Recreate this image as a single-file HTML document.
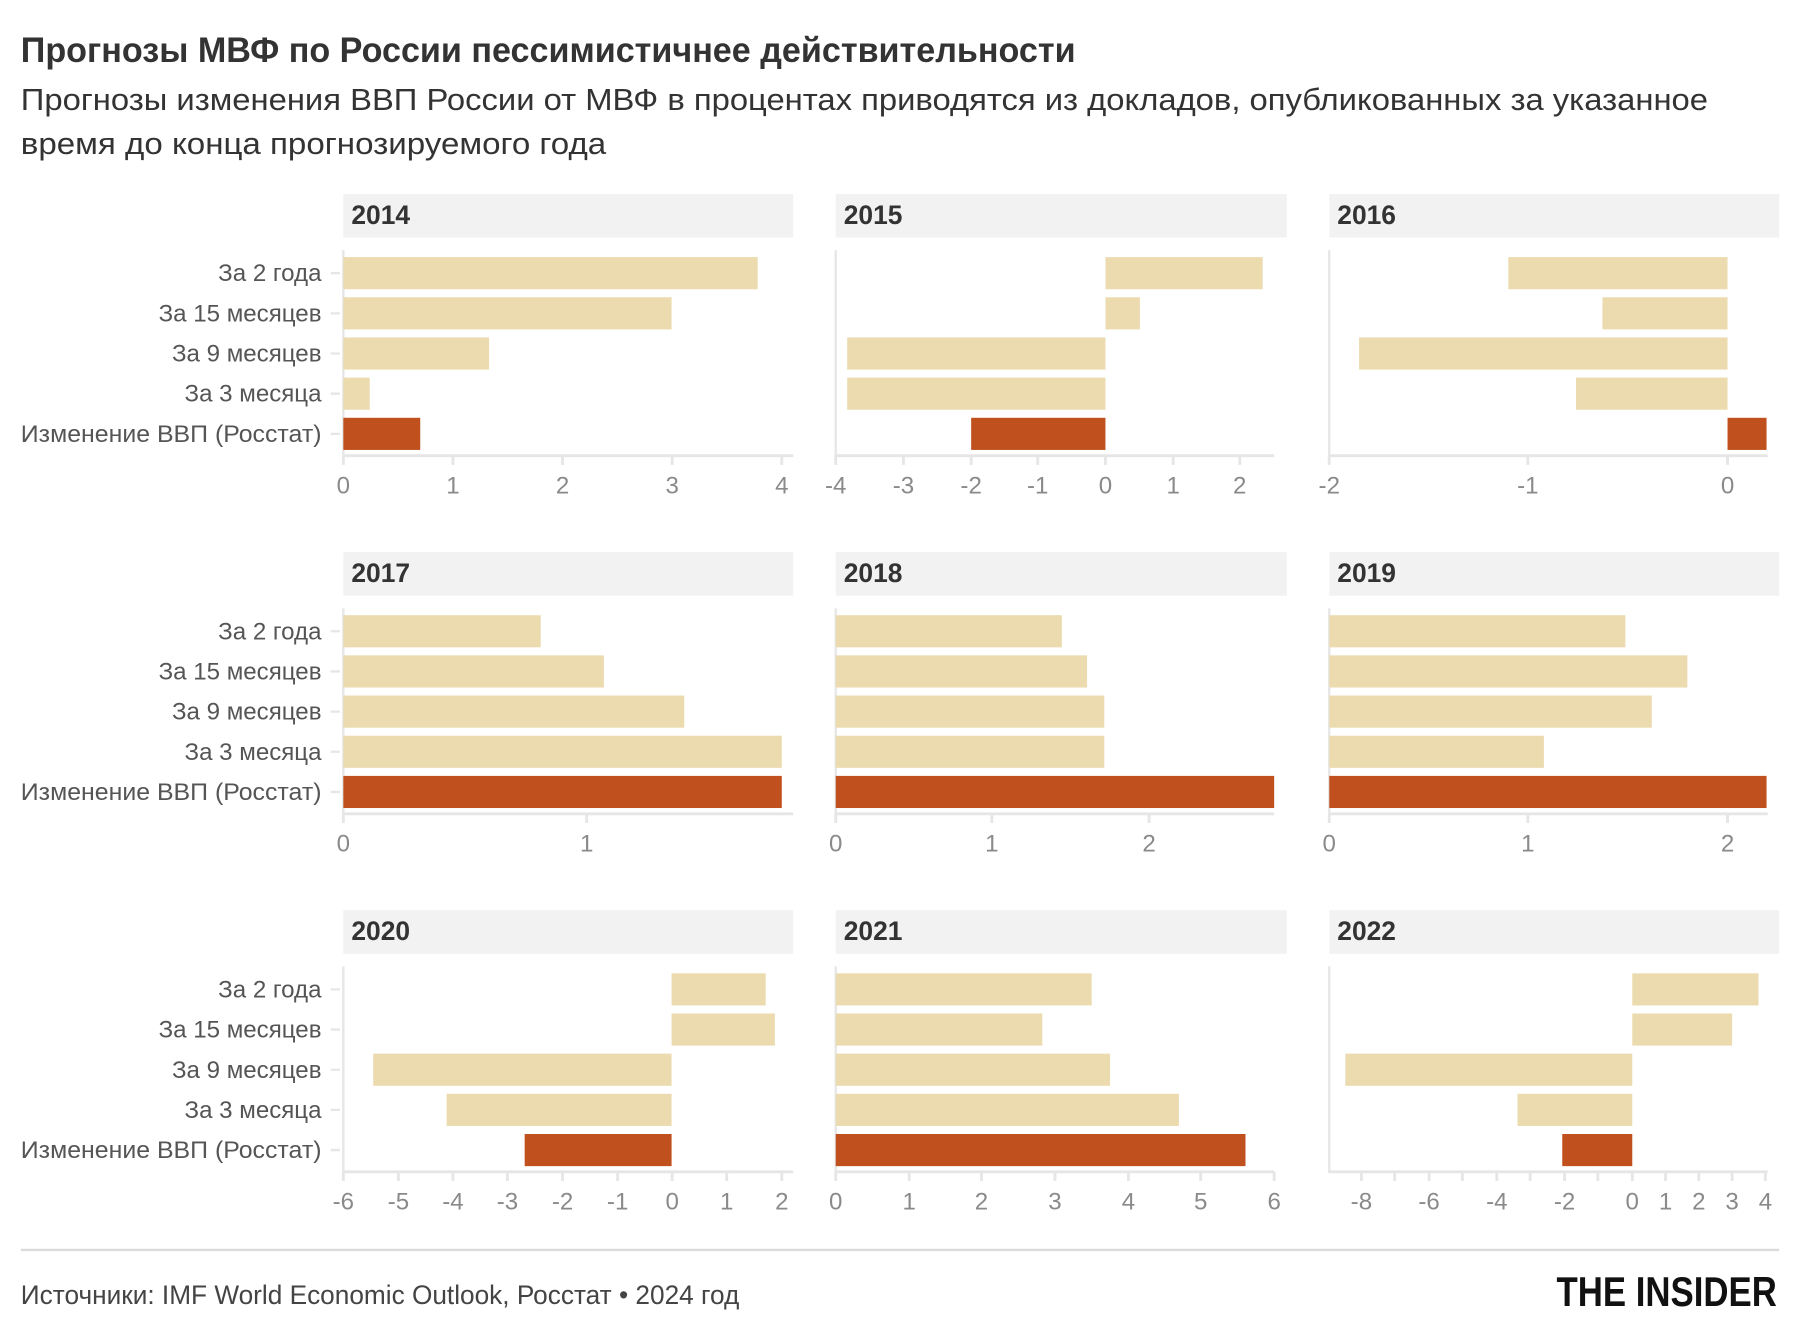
<!DOCTYPE html>
<html><head><meta charset="utf-8"><style>
html,body{margin:0;padding:0;background:#fff}
svg{display:block}
text{font-family:"Liberation Sans Narrow","Liberation Sans","DejaVu Sans Condensed",sans-serif}
.cat{font-size:21px;fill:#555;text-anchor:end}
.tk{font-size:21px;fill:#8a8a8a;text-anchor:middle}
.yr{font-size:23px;font-weight:bold;fill:#333}
.hd{fill:#f2f2f2}
.f{fill:#ecdbaf}
.a{fill:#c0501e}
.ax{stroke:#e6e6e6;stroke-width:2.5}
</style></head><body>
<svg width="1800" height="1336" viewBox="0 0 1568 1164" xmlns="http://www.w3.org/2000/svg">
<text x="18" y="54" font-size="31" font-weight="bold" fill="#333" textLength="919" lengthAdjust="spacingAndGlyphs">Прогнозы МВФ по России пессимистичнее действительности</text>
<text x="18" y="96" font-size="27" fill="#333" textLength="1470" lengthAdjust="spacingAndGlyphs">Прогнозы изменения ВВП России от МВФ в процентах приводятся из докладов, опубликованных за указанное</text>
<text x="18" y="134" font-size="27" fill="#333" textLength="510" lengthAdjust="spacingAndGlyphs">время до конца прогнозируемого года</text>

<g class="cat">
<text x="280" y="245">За 2 года</text><text x="280" y="280">За 15 месяцев</text><text x="280" y="315">За 9 месяцев</text><text x="280" y="350">За 3 месяца</text><text x="280" y="385" textLength="262" lengthAdjust="spacingAndGlyphs">Изменение ВВП (Росстат)</text>
<text x="280" y="557">За 2 года</text><text x="280" y="592">За 15 месяцев</text><text x="280" y="627">За 9 месяцев</text><text x="280" y="662">За 3 месяца</text><text x="280" y="697" textLength="262" lengthAdjust="spacingAndGlyphs">Изменение ВВП (Росстат)</text>
<text x="280" y="869">За 2 года</text><text x="280" y="904">За 15 месяцев</text><text x="280" y="939">За 9 месяцев</text><text x="280" y="974">За 3 месяца</text><text x="280" y="1009" textLength="262" lengthAdjust="spacingAndGlyphs">Изменение ВВП (Росстат)</text>
</g>
<g stroke="#e6e6e6" stroke-width="2">
<path d="M288 238h8M288 273h8M288 308h8M288 343h8M288 378h8M288 550h8M288 585h8M288 620h8M288 655h8M288 690h8M288 862h8M288 897h8M288 932h8M288 967h8M288 1002h8"/>
<path d="M299 218v180M728 218v180M1158 218v180M299 530v180M728 530v180M1158 530v180M299 842v180M728 842v180M1158 842v180"/>
</g>

<rect class="hd" x="299" y="169" width="392" height="38"/><rect class="hd" x="728" y="169" width="393" height="38"/><rect class="hd" x="1158" y="169" width="392" height="38"/>
<rect class="hd" x="299" y="481" width="392" height="38"/><rect class="hd" x="728" y="481" width="393" height="38"/><rect class="hd" x="1158" y="481" width="392" height="38"/>
<rect class="hd" x="299" y="793" width="392" height="38"/><rect class="hd" x="728" y="793" width="393" height="38"/><rect class="hd" x="1158" y="793" width="392" height="38"/>
<g class="yr">
<text x="306" y="195">2014</text><text x="735" y="195">2015</text><text x="1165" y="195">2016</text>
<text x="306" y="507">2017</text><text x="735" y="507">2018</text><text x="1165" y="507">2019</text>
<text x="306" y="819">2020</text><text x="735" y="819">2021</text><text x="1165" y="819">2022</text>
</g>

<rect class="f" x="299" y="224" width="361" height="28"/><rect class="f" x="299" y="259" width="286" height="28"/><rect class="f" x="299" y="294" width="127" height="28"/><rect class="f" x="299" y="329" width="23" height="28"/><rect class="a" x="299" y="364" width="67" height="28"/>
<rect class="f" x="963" y="224" width="137" height="28"/><rect class="f" x="963" y="259" width="30" height="28"/><rect class="f" x="738" y="294" width="225" height="28"/><rect class="f" x="738" y="329" width="225" height="28"/><rect class="a" x="846" y="364" width="117" height="28"/>
<rect class="f" x="1314" y="224" width="191" height="28"/><rect class="f" x="1396" y="259" width="109" height="28"/><rect class="f" x="1184" y="294" width="321" height="28"/><rect class="f" x="1373" y="329" width="132" height="28"/><rect class="a" x="1505" y="364" width="34" height="28"/>
<rect class="f" x="299" y="536" width="172" height="28"/><rect class="f" x="299" y="571" width="227" height="28"/><rect class="f" x="299" y="606" width="297" height="28"/><rect class="f" x="299" y="641" width="382" height="28"/><rect class="a" x="299" y="676" width="382" height="28"/>
<rect class="f" x="728" y="536" width="197" height="28"/><rect class="f" x="728" y="571" width="219" height="28"/><rect class="f" x="728" y="606" width="234" height="28"/><rect class="f" x="728" y="641" width="234" height="28"/><rect class="a" x="728" y="676" width="382" height="28"/>
<rect class="f" x="1158" y="536" width="258" height="28"/><rect class="f" x="1158" y="571" width="312" height="28"/><rect class="f" x="1158" y="606" width="281" height="28"/><rect class="f" x="1158" y="641" width="187" height="28"/><rect class="a" x="1158" y="676" width="381" height="28"/>
<rect class="f" x="585" y="848" width="82" height="28"/><rect class="f" x="585" y="883" width="90" height="28"/><rect class="f" x="325" y="918" width="260" height="28"/><rect class="f" x="389" y="953" width="196" height="28"/><rect class="a" x="457" y="988" width="128" height="28"/>
<rect class="f" x="728" y="848" width="223" height="28"/><rect class="f" x="728" y="883" width="180" height="28"/><rect class="f" x="728" y="918" width="239" height="28"/><rect class="f" x="728" y="953" width="299" height="28"/><rect class="a" x="728" y="988" width="357" height="28"/>
<rect class="f" x="1422" y="848" width="110" height="28"/><rect class="f" x="1422" y="883" width="87" height="28"/><rect class="f" x="1172" y="918" width="250" height="28"/><rect class="f" x="1322" y="953" width="100" height="28"/><rect class="a" x="1361" y="988" width="61" height="28"/>

<g class="ax">
<path d="M299 397H691M728 397H1110M1158 397H1540M299 709H691M728 709H1110M1158 709H1540M299 1021H691M728 1021H1110M1158 1021H1540"/>
<path d="M299 397v8M394.5 397v8M490 397v8M585.5 397v8M681 397v8"/>
<path d="M728 397v8M787 397v8M846 397v8M904 397v8M963 397v8M1022 397v8M1080 397v8"/>
<path d="M1158 397v8M1331 397v8M1505 397v8"/>
<path d="M299 709v8M511 709v8M728 709v8M864 709v8M1001 709v8M1158 709v8M1331 709v8M1505 709v8"/>
<path d="M299 1021v8M347 1021v8M394.5 1021v8M442 1021v8M490 1021v8M538 1021v8M585.5 1021v8M633 1021v8M681 1021v8"/>
<path d="M728 1021v8M792 1021v8M855 1021v8M919 1021v8M983 1021v8M1046 1021v8M1110 1021v8"/>
<path d="M1186 1021v8M1215 1021v8M1245 1021v8M1274 1021v8M1304 1021v8M1333 1021v8M1363 1021v8M1392 1021v8M1422 1021v8M1451 1021v8M1480 1021v8M1509 1021v8M1538 1021v8"/>
</g>
<g class="tk">
<text x="299" y="430">0</text><text x="394.5" y="430">1</text><text x="490" y="430">2</text><text x="585.5" y="430">3</text><text x="681" y="430">4</text>
<text x="728" y="430">-4</text><text x="787" y="430">-3</text><text x="846" y="430">-2</text><text x="904" y="430">-1</text><text x="963" y="430">0</text><text x="1022" y="430">1</text><text x="1080" y="430">2</text>
<text x="1158" y="430">-2</text><text x="1331" y="430">-1</text><text x="1505" y="430">0</text>
<text x="299" y="742">0</text><text x="511" y="742">1</text>
<text x="728" y="742">0</text><text x="864" y="742">1</text><text x="1001" y="742">2</text>
<text x="1158" y="742">0</text><text x="1331" y="742">1</text><text x="1505" y="742">2</text>
<text x="299" y="1054">-6</text><text x="347" y="1054">-5</text><text x="394.5" y="1054">-4</text><text x="442" y="1054">-3</text><text x="490" y="1054">-2</text><text x="538" y="1054">-1</text><text x="585.5" y="1054">0</text><text x="633" y="1054">1</text><text x="681" y="1054">2</text>
<text x="728" y="1054">0</text><text x="792" y="1054">1</text><text x="855" y="1054">2</text><text x="919" y="1054">3</text><text x="983" y="1054">4</text><text x="1046" y="1054">5</text><text x="1110" y="1054">6</text>
<text x="1186" y="1054">-8</text><text x="1245" y="1054">-6</text><text x="1304" y="1054">-4</text><text x="1363" y="1054">-2</text><text x="1422" y="1054">0</text><text x="1451" y="1054">1</text><text x="1480" y="1054">2</text><text x="1509" y="1054">3</text><text x="1538" y="1054">4</text>
</g>

<path d="M18 1089H1550" stroke="#dcdcdc" stroke-width="2"/>
<text x="18" y="1136" font-size="23" fill="#444" textLength="626" lengthAdjust="spacingAndGlyphs">Источники: IMF World Economic Outlook, Росстат • 2024 год</text>
<text x="1356" y="1138" font-size="36" font-weight="bold" fill="#111" textLength="192" lengthAdjust="spacingAndGlyphs" style="font-family:'Liberation Sans',sans-serif">THE INSIDER</text>
</svg>
</body></html>
